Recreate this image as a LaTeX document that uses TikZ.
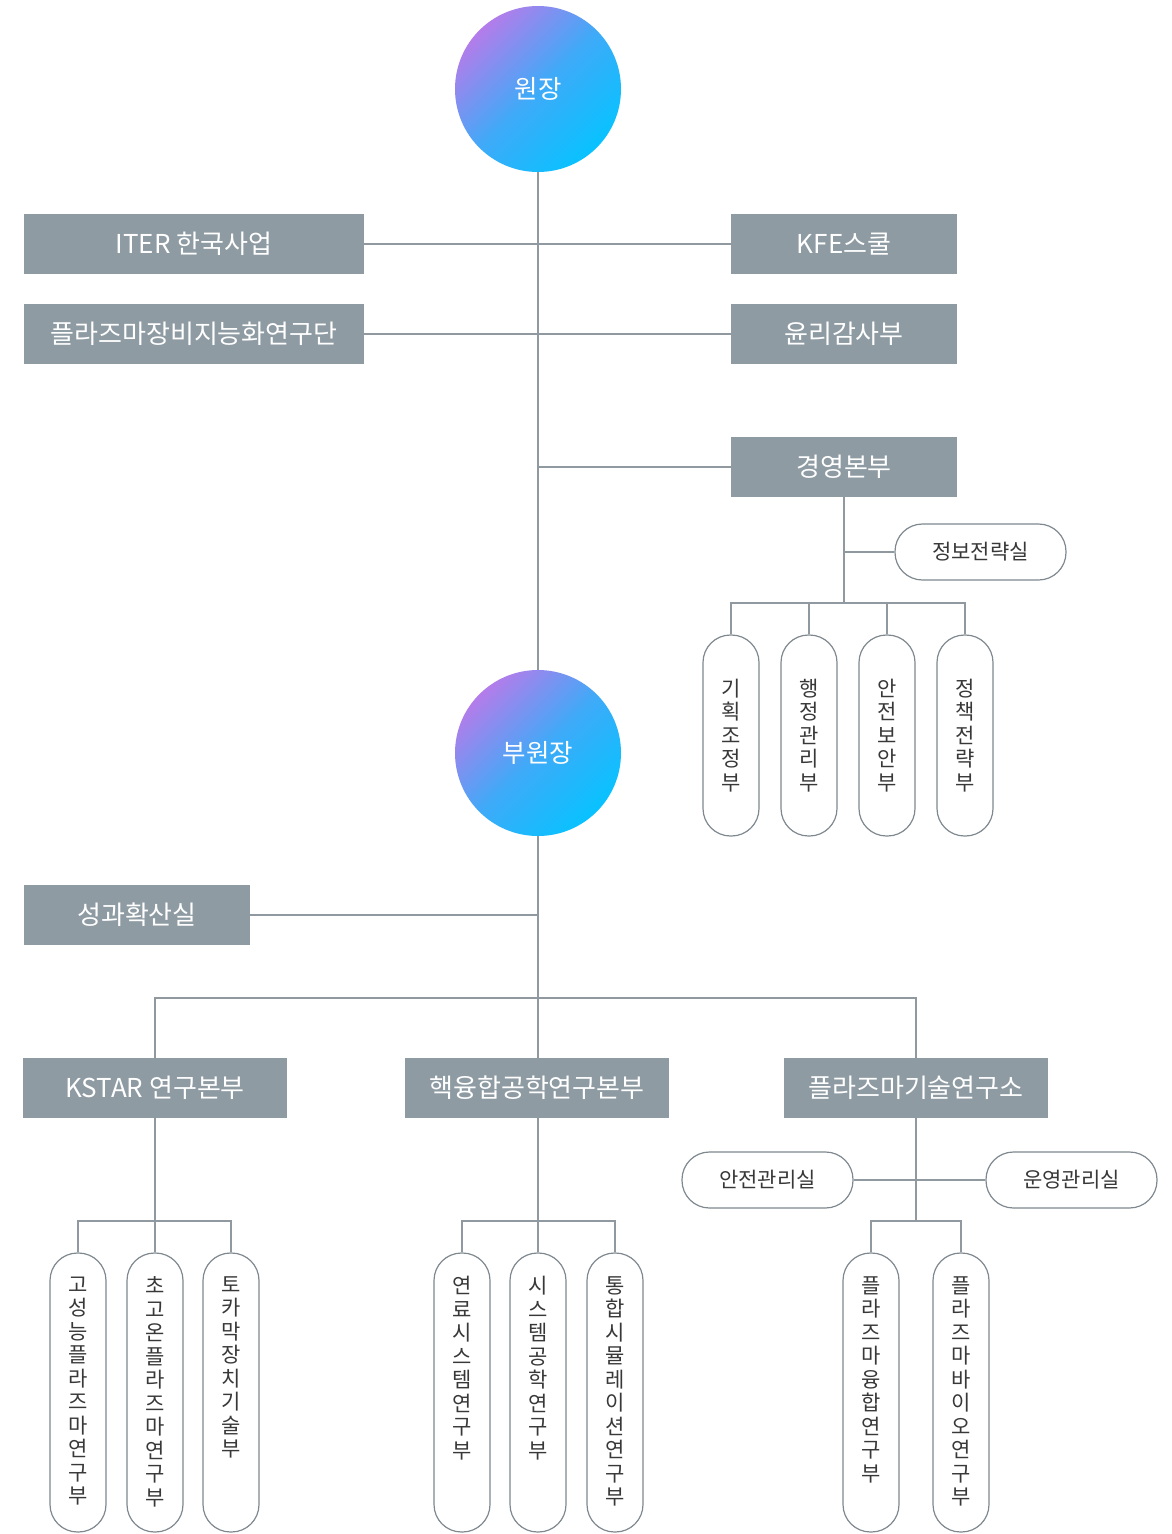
\documentclass[tikz,border=0pt]{standalone}
\usepackage{fontspec}
\setmainfont{Noto Sans CJK KR}
\usetikzlibrary{positioning}
\definecolor{boxgray}{HTML}{8E9BA3}
\definecolor{linegray}{HTML}{8F999F}
\definecolor{pillgray}{HTML}{7E888E}
\definecolor{txtgray}{HTML}{383838}
\definecolor{headpurple}{HTML}{B47CEA}
\definecolor{headblue}{HTML}{3FAAF8}
\definecolor{headcyan}{HTML}{08C2FF}
\tikzstyle{head} = [circle, minimum size=166pt, inner sep=0pt, text=white, top color=headpurple, bottom color=headcyan, middle color=headblue, shading angle=45, font=\fontsize{25.5}{30}\selectfont]
\tikzstyle{dept} = [rectangle, fill=boxgray, text=white, minimum height=60pt, inner sep=0pt, font=\fontsize{26}{30}\selectfont]
\tikzstyle{office} = [rectangle, draw=pillgray, line width=1.2pt, rounded corners=27.5pt, minimum width=171pt, minimum height=56pt, inner sep=0pt, text=txtgray, font=\fontsize{21}{23.5}\selectfont]
\tikzstyle{team} = [rectangle, draw=pillgray, line width=1.2pt, rounded corners=27.5pt, minimum width=56pt, inner sep=0pt, text=txtgray, align=center, font=\fontsize{21}{23.5}\selectfont]
\tikzstyle{teamtext} = [inner sep=0pt, text=txtgray, align=center, font=\fontsize{21}{23.5}\selectfont]
\tikzstyle{link} = [draw=linegray, line width=1.5pt]

\begin{document}
\begin{tikzpicture}[x=1pt, y=-1pt]
    \useasboundingbox (0,0) rectangle (1172,1534);

    % heads
    \node[head] (chief) at (538,89) {\raisebox{-4pt}{원장}};
    \node[head] (vice) at (538,753) {부원장};

    % upper departments
    \node[dept, minimum width=340pt] (iter) at (194,244) {ITER 한국사업};
    \node[dept, minimum width=226pt] (kfe) at (844,244) {KFE스쿨};
    \node[dept, minimum width=340pt] (equip) at (194,334) {플라즈마장비지능화연구단};
    \node[dept, minimum width=226pt] (ethics) at (844,334) {윤리감사부};
    \node[dept, minimum width=226pt] (mgmt) at (844,467) {경영본부};
    \node[office] (info) at (980.5,552) {정보전략실};

    \node[team, minimum height=201pt] (plan) at (731,735.5) {기\\획\\조\\정\\부};
    \node[team, minimum height=201pt] (admin) at (809,735.5) {행\\정\\관\\리\\부};
    \node[team, minimum height=201pt] (secur) at (887,735.5) {안\\전\\보\\안\\부};
    \node[team, minimum height=201pt] (policy) at (965,735.5) {정\\책\\전\\략\\부};

    % lower departments
    \node[dept, minimum width=226pt] (perf) at (137,915) {성과확산실};
    \node[dept, minimum width=264pt] (kstar) at (155,1088) {KSTAR 연구본부};
    \node[dept, minimum width=264pt] (fusion) at (537,1088) {핵융합공학연구본부};
    \node[dept, minimum width=264pt] (tech) at (916,1088) {플라즈마기술연구소};
    \node[office] (safety) at (767.5,1180) {안전관리실};
    \node[office] (oper) at (1071.5,1180) {운영관리실};

    \node[team, minimum height=279pt] (kst1) at (78,1392.5) {};
    \node[team, minimum height=279pt] (kst2) at (155,1392.5) {};
    \node[team, minimum height=279pt] (kst3) at (231,1392.5) {};
    \node[team, minimum height=279pt] (fus1) at (462,1392.5) {};
    \node[team, minimum height=279pt] (fus2) at (538,1392.5) {};
    \node[team, minimum height=279pt] (fus3) at (615,1392.5) {};
    \node[team, minimum height=279pt] (tec1) at (871,1392.5) {};
    \node[team, minimum height=279pt] (tec2) at (961,1392.5) {};

    \node[teamtext, below=24pt of kst1.north] (kst1t) {고\\성\\능\\플\\라\\즈\\마\\연\\구\\부};
    \node[teamtext, below=24pt of kst2.north] (kst2t) {초\\고\\온\\플\\라\\즈\\마\\연\\구\\부};
    \node[teamtext, below=24pt of kst3.north] (kst3t) {토\\카\\막\\장\\치\\기\\술\\부};
    \node[teamtext, below=24pt of fus1.north] (fus1t) {연\\료\\시\\스\\템\\연\\구\\부};
    \node[teamtext, below=24pt of fus2.north] (fus2t) {시\\스\\템\\공\\학\\연\\구\\부};
    \node[teamtext, below=24pt of fus3.north] (fus3t) {통\\합\\시\\뮬\\레\\이\\션\\연\\구\\부};
    \node[teamtext, below=24pt of tec1.north] (tec1t) {플\\라\\즈\\마\\융\\합\\연\\구\\부};
    \node[teamtext, below=24pt of tec2.north] (tec2t) {플\\라\\즈\\마\\바\\이\\오\\연\\구\\부};

    \coordinate (mgmtbar) at (844,603);
    \coordinate (mainbar) at (538,998);
    \coordinate (kstbar) at (155,1221);
    \coordinate (fusbar) at (538,1221);
    \coordinate (tecbar) at (916,1221);

    % connectors
    \draw[link] (chief.south) -- (vice.north);
    \draw[link] (iter.east) -- (kfe.west);
    \draw[link] (equip.east) -- (ethics.west);
    \draw[link] (chief.south |- mgmt.west) -- (mgmt.west);
    \draw[link] (mgmt.south) -- (mgmtbar);
    \draw[link] (mgmt.south |- info.west) -- (info.west);
    \draw[link] (plan.north) |- (mgmtbar) -| (policy.north);
    \draw[link] (admin.north) -- (admin.north |- mgmtbar);
    \draw[link] (secur.north) -- (secur.north |- mgmtbar);

    \draw[link] (vice.south) -- (vice.south |- fusion.north);
    \draw[link] (perf.east) -- (perf.east -| vice.south);
    \draw[link] (kstar.north) |- (mainbar) -| (tech.north);

    \draw[link] (kstar.south) -- (kst2.north);
    \draw[link] (kst1.north) |- (kstbar) -| (kst3.north);
    \draw[link] (fus2.north |- fusion.south) -- (fus2.north);
    \draw[link] (fus1.north) |- (fusbar) -| (fus3.north);
    \draw[link] (tech.south) -- (tecbar);
    \draw[link] (safety.east) -- (oper.west);
    \draw[link] (tec1.north) |- (tecbar) -| (tec2.north);
\end{tikzpicture}
\end{document}
